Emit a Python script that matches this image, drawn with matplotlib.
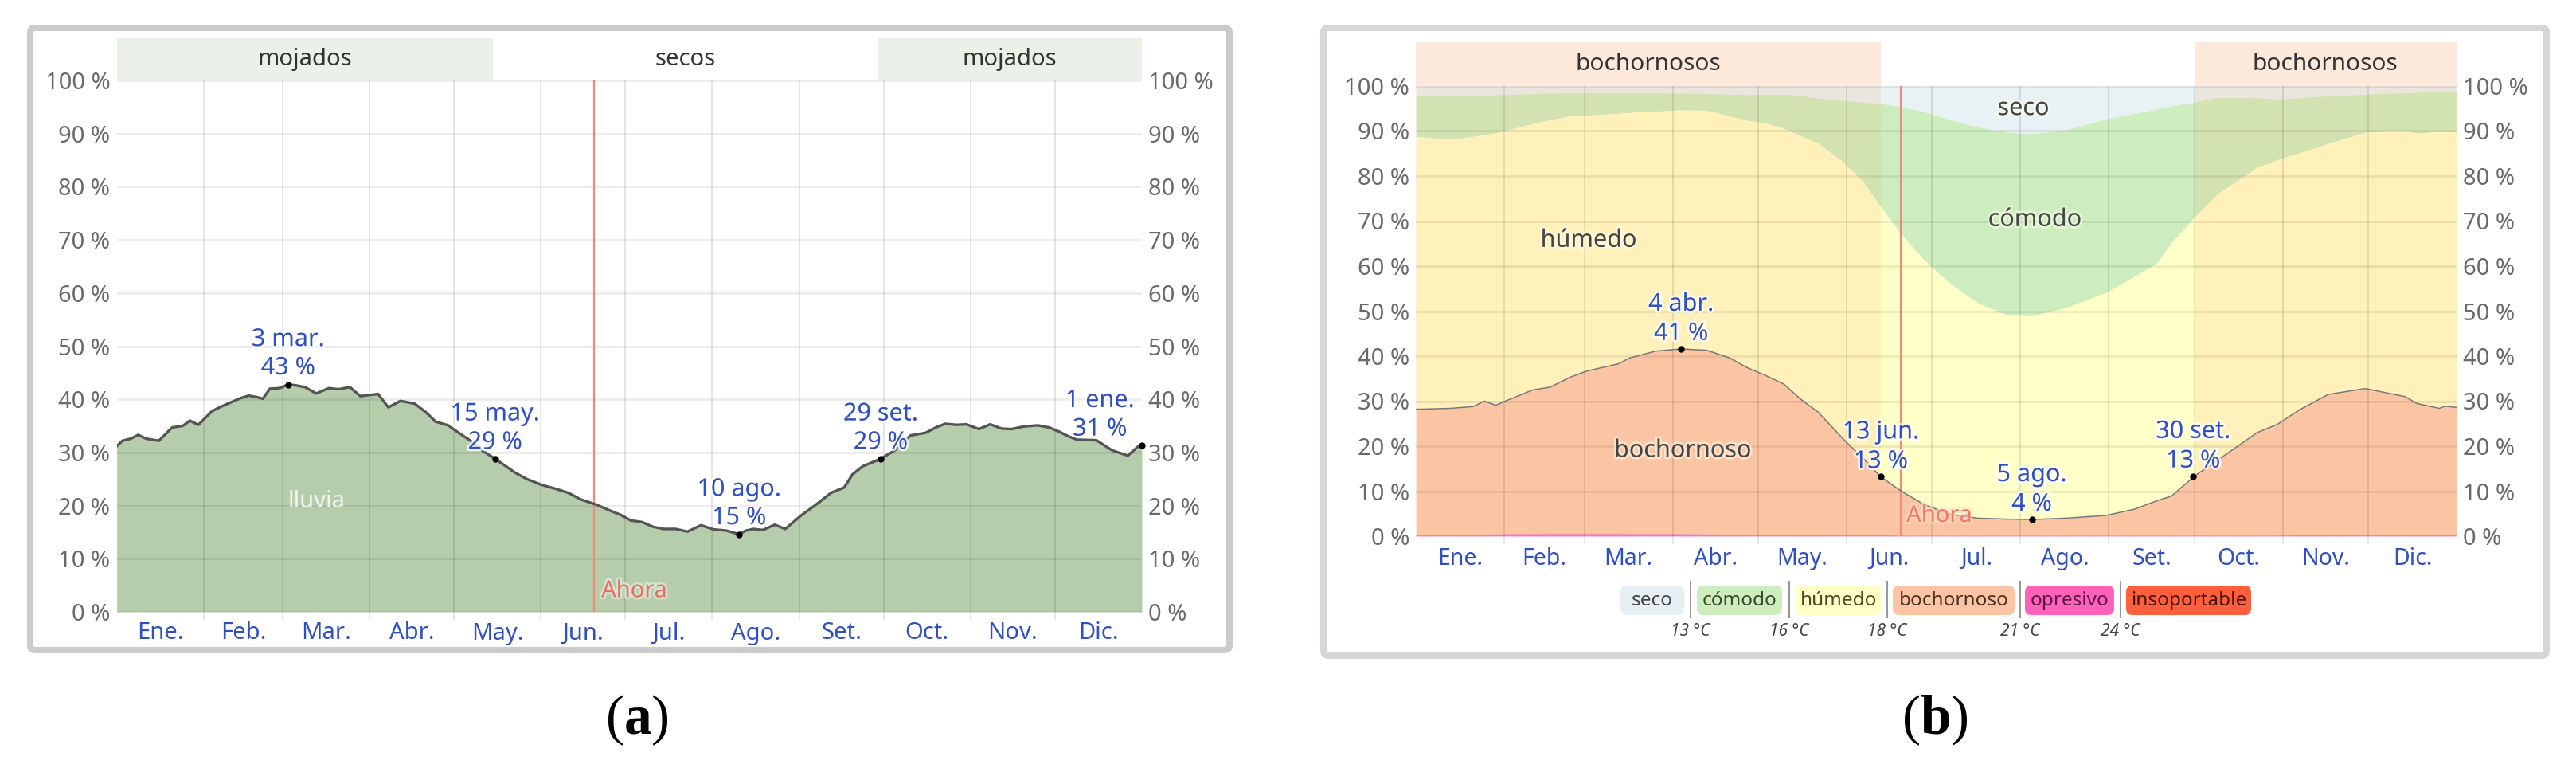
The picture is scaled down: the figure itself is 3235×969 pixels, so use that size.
import matplotlib.pyplot as plt
import matplotlib.patheffects as pe
from matplotlib.patches import Rectangle, FancyBboxPatch
from matplotlib.transforms import blended_transform_factory

plt.rcParams['font.family'] = ['Noto Sans', 'DejaVu Sans']
plt.rcParams['mathtext.fontset'] = 'custom'
plt.rcParams['mathtext.rm'] = 'Liberation Serif'
plt.rcParams['mathtext.bf'] = 'Liberation Serif:bold'

W, H = 3235, 969

# --- data ---
month_edges = [0, 31, 59, 90, 120, 151, 181, 212, 243, 273, 304, 334, 365]
month_labels = ['Ene.', 'Feb.', 'Mar.', 'Abr.', 'May.', 'Jun.', 'Jul.', 'Ago.', 'Set.', 'Oct.', 'Nov.', 'Dic.']
pct_ticks = [0, 10, 20, 30, 40, 50, 60, 70, 80, 90, 100]
today = 170

# (a) probabilidad de lluvia
rain_day = [0, 2, 5, 7.6, 10.4, 15, 19.7, 23.5, 26, 29, 34, 37, 40.5, 44, 47, 50, 52, 54.5, 58, 61,
            64, 67, 71, 75.5, 79, 83, 86.7, 93, 96.7, 101, 106, 110, 113.5, 118, 122, 126, 130,
            134.7, 138, 141.8, 146, 151.3, 156, 160.8, 165, 170.6, 175, 179.6, 183, 187, 191,
            194.7, 199, 203.2, 208, 212.6, 217, 221.6, 224, 226.8, 230, 234.3, 238, 243.8, 248,
            250.5, 254.3, 259, 262, 265.6, 272, 277, 282.6, 288, 292, 295, 299, 302.5, 307, 311,
            315, 318.6, 323, 328, 332, 335.6, 339, 342, 348.8, 354.4, 360, 363.8, 365]
rain_pct = [31.2, 32.2, 32.6, 33.3, 32.6, 32.2, 34.7, 35.0, 36.0, 35.2, 37.8, 38.6, 39.4, 40.2, 40.7,
            40.4, 40.1, 42.0, 42.1, 42.8, 42.6, 42.3, 41.1, 42.1, 41.9, 42.3, 40.6, 41.0, 38.5, 39.7,
            39.2, 37.6, 35.8, 35.1, 33.6, 32.2, 30.4, 28.8, 27.6, 26.2, 25.0, 23.9, 23.2, 22.4, 21.2,
            20.2, 19.2, 18.2, 17.2, 16.9, 16.0, 15.6, 15.6, 15.1, 16.3, 15.5, 15.3, 14.6, 15.3, 15.6,
            15.4, 16.4, 15.6, 18.2, 19.8, 20.8, 22.4, 23.4, 25.9, 27.4, 28.8, 30.4, 33.2, 33.7, 34.8,
            35.4, 35.2, 35.3, 34.4, 35.3, 34.5, 34.4, 34.9, 35.1, 34.7, 33.9, 33.0, 32.4, 32.3, 30.4,
            29.4, 31.2, 31.3]
rain_mark_day = [61, 134.7, 221.6, 272, 365]
rain_mark_pct = [42.8, 28.8, 14.6, 28.8, 31.3]
rain_mark_text = ['3 mar.\n43 %', '15 may.\n29 %', '10 ago.\n15 %', '29 set.\n29 %', '1 ene.\n31 %']
wet_periods = [(0, 134), (271, 365)]

# (b) niveles de comodidad de la humedad (acumulados)
hum_day = [0, 12, 20, 24, 28, 32, 41, 47, 54, 60, 71, 75, 84, 93, 102, 110, 116, 123, 129, 135, 141,
           150, 157, 163, 170, 178, 187, 197, 207, 216, 228, 242, 252, 260, 265, 273, 281, 295, 302,
           310, 320, 333, 347, 351, 359, 361, 365]
opresivo_top = [0.3, 0.3, 0.3, 0.4, 0.5, 0.6, 0.6, 0.7, 0.7, 0.7, 0.7, 0.6, 0.6, 0.6, 0.5, 0.4, 0.3,
                0.3, 0.3, 0.3, 0.3, 0.3, 0.3, 0.3, 0.2, 0.2, 0.2, 0.2, 0.2, 0.2, 0.2, 0.2, 0.2, 0.2,
                0.2, 0.2, 0.2, 0.2, 0.2, 0.3, 0.3, 0.3, 0.3, 0.3, 0.3, 0.3, 0.3]
bochornoso_top = [28.2, 28.4, 28.8, 30.0, 29.1, 30.2, 32.5, 33.1, 35.3, 36.7, 38.3, 39.6, 41.1, 41.6,
                  41.3, 39.6, 37.5, 35.6, 33.8, 30.4, 27.6, 21.5, 17.2, 13.2, 10.1, 7.1, 4.9, 4.0,
                  3.8, 3.7, 4.0, 4.6, 6.0, 7.9, 8.9, 13.3, 16.8, 23.0, 24.8, 28.1, 31.5, 32.8, 31.0,
                  29.5, 28.4, 28.9, 28.6]
humedo_top = [88.8, 88.1, 88.8, 89.2, 89.6, 90.2, 91.7, 92.5, 93.3, 93.5, 93.9, 94.1, 94.4, 94.7, 94.6,
              93.3, 92.4, 91.7, 90.6, 88.9, 87.3, 83.0, 78.5, 73.2, 67.2, 61.5, 56.3, 51.8, 49.2,
              48.9, 50.8, 54.1, 57.7, 60.7, 65.2, 70.8, 76.0, 81.9, 83.6, 85.2, 87.2, 89.7, 90.1,
              89.5, 89.9, 89.8, 89.8]
comodo_top = [97.9, 97.8, 97.9, 98.0, 98.1, 98.1, 98.3, 98.4, 98.5, 98.5, 98.5, 98.5, 98.5, 98.4,
              98.3, 98.2, 98.1, 98.2, 98.2, 97.9, 97.3, 96.8, 96.4, 96.1, 95.4, 94.3, 92.6, 90.9,
              89.8, 89.4, 90.2, 92.7, 93.9, 94.9, 95.6, 96.4, 97.5, 97.4, 97.1, 97.4, 97.8, 98.2,
              98.5, 98.6, 98.8, 98.8, 98.9]
hum_mark_day = [93, 163, 216, 272.6]
hum_mark_pct = [41.6, 13.2, 3.7, 13.3]
hum_mark_text = ['4 abr.\n41 %', '13 jun.\n13 %', '5 ago.\n4 %', '30 set.\n13 %']
muggy_periods = [(0, 163), (273, 365)]

legend_labels = ['seco', 'cómodo', 'húmedo', 'bochornoso', 'opresivo', 'insoportable']
legend_colors = ['#e6eff3', '#cdedbc', '#ffffc6', '#fdc4a4', '#ff62b8', '#ff5f3c']
legend_text_colors = ['#444444', '#3a4a32', '#4c4a2a', '#4a3222', '#5c1448', '#4a1408']
legend_temps = ['13 °C', '16 °C', '18 °C', '21 °C', '24 °C']

BLUE = '#2f4fc2'
halo = [pe.withStroke(linewidth=4, foreground='white', alpha=0.8)]

fig = plt.figure(figsize=(W / 100, H / 100), dpi=100)
bg = fig.add_axes([0, 0, 1, 1], zorder=0)
bg.set_xlim(0, W)
bg.set_ylim(H, 0)
bg.axis('off')


def px_axes(x0, y0, x1, y1):
    return fig.add_axes([x0 / W, 1 - y1 / H, (x1 - x0) / W, (y1 - y0) / H], zorder=2)


def style(ax, tick_fs, month_fs, month_pad):
    ax.set_xlim(0, 365)
    ax.set_ylim(0, 100)
    for s in ax.spines.values():
        s.set_visible(False)
    ax.set_xticks(month_edges[1:-1])
    ax.set_xticklabels([])
    ax.tick_params(axis='x', which='major', length=7, width=1.2, color='#e2e2e2')
    mids = [(a + b) / 2 for a, b in zip(month_edges[:-1], month_edges[1:])]
    ax.set_xticks(mids, minor=True)
    ax.set_xticklabels(month_labels, minor=True)
    ax.tick_params(axis='x', which='minor', length=0, pad=month_pad, labelsize=month_fs,
                   labelcolor=BLUE)
    ax.set_yticks(pct_ticks)
    ax.set_yticklabels([f'{v} %' for v in pct_ticks])
    ax.tick_params(axis='y', length=0, labelleft=True, labelright=True, labelsize=tick_fs,
                   labelcolor='#6a6a6a', pad=6)
    for v in pct_ticks:
        ax.axhline(v, color='k', alpha=0.07, lw=2.2, zorder=5)
    for d in month_edges[1:-1]:
        ax.axvline(d, color='k', alpha=0.11, lw=1.3, zorder=5)
    ax.axvline(today, color='#f08a80', lw=1.6, zorder=6)


def top_band(ax, periods, color, height, labels, fs):
    trans = blended_transform_factory(ax.transData, ax.transAxes)
    for (a, b) in periods:
        ax.add_patch(Rectangle((a, 1.0), b - a, height, transform=trans, color=color,
                               clip_on=False, zorder=1, lw=0))
    for x, t in labels:
        ax.text(x, 1.0 + height / 2, t, transform=trans, ha='center', va='center',
                fontsize=fs, color='#333333')


# ---------------- (a) ----------------
ax1 = px_axes(146.7, 101, 1434, 768)
style(ax1, 21, 21, 9)
ax1.fill_between(rain_day, rain_pct, color='#b5cdab', lw=0, zorder=2)
ax1.plot(rain_day, rain_pct, color='#555555', lw=2.4, zorder=6)
ax1.plot(rain_mark_day, rain_mark_pct, 'o', color='black', ms=5, zorder=7, clip_on=False)
for d, v, t in zip(rain_mark_day, rain_mark_pct, rain_mark_text):
    dx = -38 if d >= 360 else 0
    ax1.annotate(t, (d, v), xytext=(dx, 4), textcoords='offset points', ha='center',
                 va='bottom', fontsize=22, color=BLUE, linespacing=1.25, path_effects=halo,
                 zorder=8, annotation_clip=False)
ax1.text(71, 20.7, 'lluvia', ha='center', va='center', fontsize=21, color='#f1f6ef', zorder=7)
ax1.text(today + 2.5, 3.9, 'Ahora', ha='left', va='center', fontsize=21, color='#e6735f',
         path_effects=[pe.withStroke(linewidth=4, foreground='#e9f0e6', alpha=0.6)], zorder=7)
top_band(ax1, wet_periods, '#ebf1e8', 0.079,
         [(67, 'mojados'), (202.5, 'secos'), (318, 'mojados')], 21)

# ---------------- (b) ----------------
ax2 = px_axes(1778.3, 108, 3085, 673)
style(ax2, 21, 20.5, 10)
ax2.fill_between(hum_day, comodo_top, 100, color='#e8f1f4', lw=0, zorder=1)
ax2.fill_between(hum_day, humedo_top, comodo_top, color='#cdedbf', lw=0, zorder=1)
ax2.fill_between(hum_day, bochornoso_top, humedo_top, color='#ffffc8', lw=0, zorder=1)
for (a, b) in muggy_periods:
    ax2.axvspan(a, b, color='#ff9a55', alpha=0.13, lw=0, zorder=2)
ax2.fill_between(hum_day, opresivo_top, bochornoso_top, color='#fbc4a2', lw=0, zorder=3)
ax2.fill_between(hum_day, 0, opresivo_top, color='#f58fb8', lw=0, zorder=3)
ax2.plot(hum_day, bochornoso_top, color='#777777', lw=1.1, zorder=6)
ax2.plot(hum_mark_day, hum_mark_pct, 'o', color='black', ms=5, zorder=7)
for d, v, t in zip(hum_mark_day, hum_mark_pct, hum_mark_text):
    ax2.annotate(t, (d, v), xytext=(0, 3), textcoords='offset points', ha='center',
                 va='bottom', fontsize=22, color=BLUE, linespacing=1.3, path_effects=halo,
                 zorder=8)
soft = [pe.withStroke(linewidth=4, foreground='#fffff0', alpha=0.5)]
for x, y, t in [(213, 95.0, 'seco'), (217, 70.3, 'cómodo'), (60.5, 65.7, 'húmedo'),
                (93.5, 19.0, 'bochornoso')]:
    ax2.text(x, y, t, ha='center', va='center', fontsize=22, color='#464646',
             path_effects=soft, zorder=7)
ax2.text(today + 2, 4.5, 'Ahora', ha='left', va='center', fontsize=21, color='#f07a66',
         path_effects=[pe.withStroke(linewidth=4, foreground='#fde0cc', alpha=0.6)], zorder=7)
top_band(ax2, muggy_periods, '#fde8dc', 0.097,
         [(81.5, 'bochornosos'), (319, 'bochornosos')], 21.5)

# ---------------- frames, legend, captions ----------------
bg.add_patch(FancyBboxPatch((38, 35), 1506, 781, boxstyle='round,pad=0,rounding_size=6',
                            fill=False, ec='#cbcbcb', lw=5.8))
bg.add_patch(FancyBboxPatch((1662, 35), 1536, 788, boxstyle='round,pad=0,rounding_size=6',
                            fill=False, ec='#d6d6d6', lw=5.8))

legend_box_x = [(2035, 2115), (2131, 2238), (2255, 2363), (2377, 2530), (2543, 2655), (2670, 2827)]
for (x0, x1), lab, c, tc in zip(legend_box_x, legend_labels, legend_colors, legend_text_colors):
    bg.add_patch(FancyBboxPatch((x0, 735), x1 - x0, 37, boxstyle='round,pad=0,rounding_size=8',
                                fc=c, ec='none'))
    bg.text((x0 + x1) / 2, 754, lab, ha='center', va='center', fontsize=17.5, color=tc)
sep_x = [(l[1] + r[0]) / 2 for l, r in zip(legend_box_x[:-1], legend_box_x[1:])]
for sx, t in zip(sep_x, legend_temps):
    bg.plot([sx, sx], [730, 775], color='#999999', lw=1.5)
    bg.text(sx, 792, t, ha='center', va='center', fontsize=15, style='italic', color='#444444')

bg.text(800, 903, r'$\mathrm{(}\mathbf{a}\mathrm{)}$', ha='center', va='center', fontsize=50)
bg.text(2430, 903, r'$\mathrm{(}\mathbf{b}\mathrm{)}$', ha='center', va='center', fontsize=50)

fig.savefig('out.png', dpi=100, facecolor='white')
